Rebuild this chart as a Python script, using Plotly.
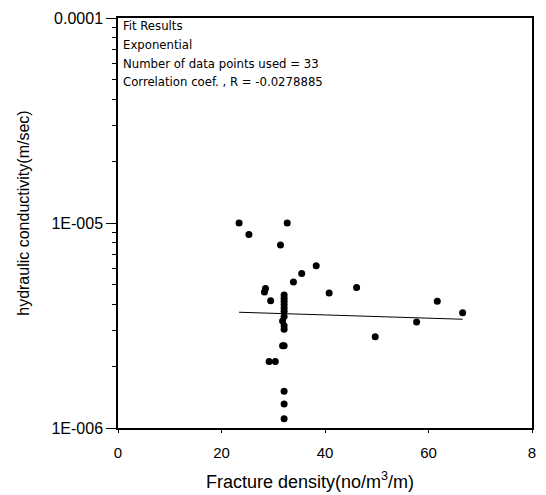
import numpy as np
import plotly.graph_objects as go

# Data (fracture density vs hydraulic conductivity)
fracture_density = [23.4, 25.3, 32.7, 31.4, 38.3, 35.5, 33.9, 28.5, 28.3, 29.5,
                    40.8, 46.1, 49.7, 57.7, 61.7, 66.6,
                    32.1, 32.1, 32.1, 32.1, 32.1, 32.1, 31.8, 32.1, 32.1, 32.1,
                    31.8, 32.1, 29.2, 30.4, 32.1, 32.1, 32.1]
conductivity = [1.0e-5, 8.78e-6, 1.0e-5, 7.8e-6, 6.18e-6, 5.67e-6, 5.15e-6, 4.79e-6, 4.61e-6, 4.18e-6,
                4.55e-6, 4.85e-6, 2.79e-6, 3.29e-6, 4.15e-6, 3.65e-6,
                4.45e-6, 4.3e-6, 4.15e-6, 4.0e-6, 3.85e-6, 3.71e-6, 3.33e-6, 3.15e-6, 3.03e-6, 3.5e-6,
                2.52e-6, 2.52e-6, 2.11e-6, 2.11e-6, 1.51e-6, 1.31e-6, 1.11e-6]

# Exponential fit parameters: y = a * exp(b * x)
fit_a = 3.83e-6
fit_b = -0.00182

fit_lines = ["Fit Results", "Exponential",
             "Number of data points used = 33",
             "Correlation coef. , R = -0.0278885"]

x_title = "Fracture density(no/m<sup>3</sup>/m)"
y_title = "hydraulic conductivity(m/sec)"

x_tickvals = [0, 20, 40, 60, 80]
x_ticktext = ["0", "20", "40", "60", "8"]
y_tickvals = [1e-6, 1e-5, 1e-4]
y_ticktext = ["1E-006", "1E-005", "0.0001"]
y_minor_vals = [m * 1e-6 for m in range(2, 10)] + [m * 1e-5 for m in range(2, 10)]

fit_x = np.array([min(fracture_density), max(fracture_density)])
fit_y = fit_a * np.exp(fit_b * fit_x)

fig = go.Figure()
fig.add_trace(go.Scatter(x=fit_x, y=fit_y, mode="lines",
                         line=dict(color="black", width=1), showlegend=False))
fig.add_trace(go.Scatter(x=fracture_density, y=conductivity, mode="markers",
                         marker=dict(color="black", size=7), showlegend=False))

ann_y = [0.981, 0.935, 0.889, 0.844]
for txt, yy in zip(fit_lines, ann_y):
    fig.add_annotation(x=0.008, y=yy, xref="paper", yref="paper", text=txt,
                       showarrow=False, xanchor="left", yanchor="middle",
                       font=dict(family="DejaVu Sans Condensed, Liberation Sans Narrow, Liberation Sans",
                                 size=13, color="black"))

fig.add_annotation(x=0.464, y=-0.128, xref="paper", yref="paper", text=x_title,
                   showarrow=False, xanchor="center", yanchor="middle",
                   font=dict(family="Liberation Sans, Arial", size=18, color="black"))
fig.add_annotation(x=-0.228, y=0.524, xref="paper", yref="paper", text=y_title,
                   showarrow=False, xanchor="center", yanchor="middle", textangle=-90,
                   font=dict(family="Liberation Sans, Arial", size=16, color="black"))

tick_font = dict(family="Liberation Sans, Arial", size=16, color="black")
fig.update_layout(
    width=546, height=495,
    margin=dict(l=118, r=10, t=14, b=67),
    paper_bgcolor="white", plot_bgcolor="white",
    xaxis=dict(range=[0, 80], tickvals=x_tickvals, ticktext=x_ticktext,
               showline=True, linecolor="black", linewidth=1.5, mirror=True,
               ticks="outside", ticklen=3, tickcolor="black", ticklabelstandoff=7,
               showgrid=False, zeroline=False, tickfont=dict(tick_font, size=15)),
    yaxis=dict(type="log", range=[-6, -4], tickvals=y_tickvals, ticktext=y_ticktext,
               showline=True, linecolor="black", linewidth=1.5, mirror=True,
               ticks="outside", ticklen=10, tickcolor="black",
               minor=dict(tickvals=y_minor_vals, ticks="outside", ticklen=4, tickcolor="black"),
               showgrid=False, zeroline=False, tickfont=tick_font),
)

fig.write_html("out.html")
